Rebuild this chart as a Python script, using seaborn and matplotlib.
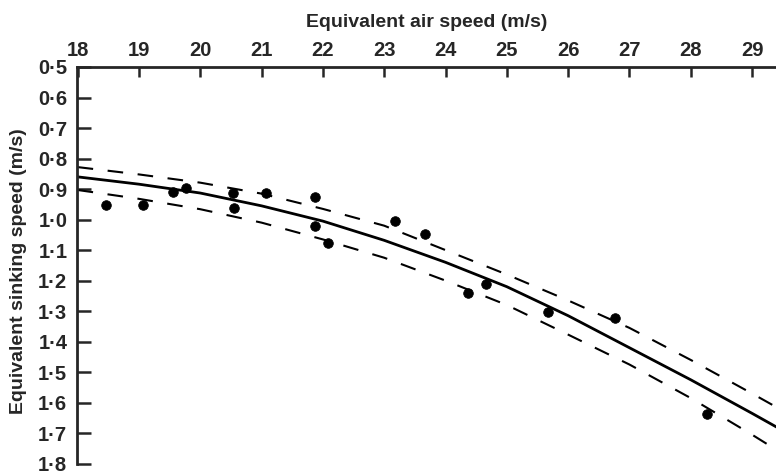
import matplotlib
matplotlib.use("Agg")
import matplotlib.pyplot as plt
import seaborn as sns
import pandas as pd

# fitted curve and its confidence band
fit_x = [18, 19, 20, 21, 22, 23, 24, 25, 26, 27, 28, 29, 29.4]
fit_mid = [0.86, 0.884, 0.913, 0.955, 1.005, 1.068, 1.14, 1.22, 1.315, 1.42, 1.525, 1.635, 1.68]
fit_upper = [0.828, 0.852, 0.879, 0.915, 0.965, 1.02, 1.1, 1.18, 1.265, 1.355, 1.46, 1.57, 1.615]
fit_lower = [0.903, 0.932, 0.966, 1.01, 1.065, 1.125, 1.2, 1.28, 1.377, 1.475, 1.585, 1.705, 1.755]

# measured points
obs_x = [18.47, 19.07, 19.56, 19.76, 20.54, 20.55, 21.08, 21.87, 21.87, 22.08,
         23.17, 23.66, 24.36, 24.66, 25.67, 26.76, 28.26]
obs_y = [0.952, 0.953, 0.91, 0.895, 0.913, 0.962, 0.913, 0.926, 1.021, 1.077,
         1.005, 1.048, 1.241, 1.211, 1.303, 1.323, 1.638]

xticks = [18, 19, 20, 21, 22, 23, 24, 25, 26, 27, 28, 29]
yticks = [0.5, 0.6, 0.7, 0.8, 0.9, 1.0, 1.1, 1.2, 1.3, 1.4, 1.5, 1.6, 1.7, 1.8]
ytick_labels = ["0·5", "0·6", "0·7", "0·8", "0·9", "1·0", "1·1", "1·2", "1·3",
                "1·4", "1·5", "1·6", "1·7", "1·8"]

sns.set_style("ticks")
plt.rcParams['font.family'] = ['Liberation Sans', 'DejaVu Sans']
plt.rcParams['font.weight'] = 'bold'

fig = plt.figure(figsize=(7.76, 4.75), dpi=100)
ax = fig.add_axes([77 / 776, 0.0, 699 / 776, 408 / 475])

fit = pd.DataFrame({'x': fit_x, 'mid': fit_mid, 'up': fit_upper, 'lo': fit_lower})
obs = pd.DataFrame({'x': obs_x, 'y': obs_y})

sns.lineplot(data=fit, x='x', y='mid', ax=ax, color='black', lw=2.0)
sns.lineplot(data=fit, x='x', y='up', ax=ax, color='black', lw=1.5,
             linestyle=(0, (7.5, 7.0)))
sns.lineplot(data=fit, x='x', y='lo', ax=ax, color='black', lw=1.5,
             linestyle=(0, (7.5, 7.0)))
sns.scatterplot(data=obs, x='x', y='y', ax=ax, color='black', s=48, edgecolor='black')

ax.set_xlim(17.99, 29.39)
ax.set_ylim(1.837, 0.5)

ax.xaxis.tick_top()
ax.xaxis.set_label_position('top')
ax.set_xticks(xticks)
ax.set_xticklabels([str(t) for t in xticks])
ax.set_yticks(yticks)
ax.set_yticklabels(ytick_labels)
ax.tick_params(axis='x', direction='in', length=7, width=1.8, labelsize=14.5, pad=5)
ax.tick_params(axis='y', direction='in', length=10, width=1.8, labelsize=14.5, pad=7)
for lab in ax.get_xticklabels() + ax.get_yticklabels():
    lab.set_fontweight('bold')

ax.set_xlabel("Equivalent air speed (m/s)", fontsize=14, fontweight='bold', labelpad=10)
ax.set_ylabel("Equivalent sinking speed (m/s)", fontsize=14, fontweight='bold', labelpad=8)

ax.spines['right'].set_visible(False)
ax.spines['bottom'].set_visible(False)
ax.spines['top'].set_linewidth(2)
ax.spines['left'].set_linewidth(2)
ax.spines['left'].set_bounds(0.5, 1.8)

fig.savefig('out.png', dpi=100)
